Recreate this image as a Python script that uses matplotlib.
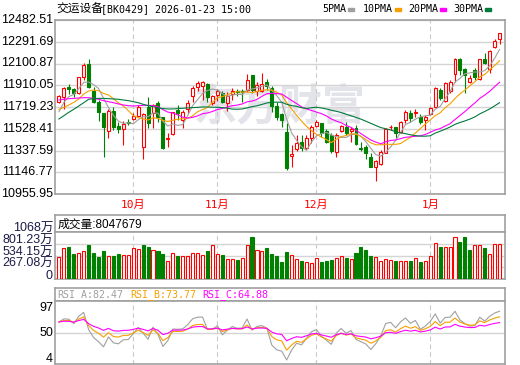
import numpy as np
import pandas as pd
import matplotlib
matplotlib.use("Agg")
import matplotlib.pyplot as plt
from matplotlib import transforms
from matplotlib.patches import Rectangle

# daily bars of 交运设备 [BK0429]
opens = [11766, 11810, 11898, 11877, 11845, 11980, 12094, 11863, 11766, 11670,
         11509, 11687, 11553, 11523, 11591, 11611, 11640, 11366, 11716, 11664,
         11757, 11629, 11439, 11480, 11693, 11605, 11699, 11816, 11892, 11907,
         11921, 11757, 11825, 11845, 11752, 11833, 11863, 11860, 11869, 12000,
         11860, 11863, 11942, 11883, 11728, 11655, 11503, 11290, 11348, 11415,
         11363, 11445, 11556, 11576, 11512, 11474, 11328, 11512, 11547, 11506,
         11532, 11363, 11371, 11284, 11196, 11219, 11319, 11541, 11541, 11503,
         11605, 11664, 11664, 11629, 11605, 11658, 11722, 11869, 11775, 11863,
         12006, 12138, 12050, 11936, 12044, 11962, 12140, 12050, 12243, 12316]
highs = [11825, 11898, 11921, 11883, 11985, 12102, 12140, 11898, 11781, 11670,
         11699, 11722, 11591, 11599, 11611, 11664, 11737, 11670, 11804, 11746,
         11772, 11635, 11488, 11672, 11737, 11693, 11781, 11904, 11950, 11947,
         11927, 11825, 11874, 11863, 11854, 11883, 11877, 11874, 12006, 12000,
         11942, 12015, 11962, 11904, 11766, 11664, 11576, 11386, 11474, 11474,
         11474, 11561, 11605, 11582, 11523, 11488, 11488, 11561, 11591, 11547,
         11561, 11415, 11386, 11313, 11255, 11342, 11532, 11561, 11547, 11597,
         11693, 11693, 11699, 11658, 11649, 11716, 11898, 11883, 11942, 11956,
         12146, 12152, 12059, 12000, 12059, 12143, 12190, 12219, 12313, 12371]
lows = [11752, 11699, 11833, 11810, 11833, 11956, 11883, 11752, 11599, 11284,
        11445, 11518, 11488, 11386, 11561, 11605, 11629, 11260, 11532, 11532,
        11591, 11351, 11371, 11474, 11605, 11532, 11664, 11766, 11860, 11781,
        11766, 11737, 11775, 11752, 11687, 11781, 11816, 11766, 11854, 11845,
        11816, 11854, 11869, 11678, 11605, 11547, 11167, 11190, 11336, 11336,
        11342, 11406, 11547, 11453, 11406, 11313, 11284, 11503, 11474, 11415,
        11386, 11336, 11260, 11190, 11070, 11211, 11313, 11518, 11444, 11488,
        11576, 11591, 11629, 11570, 11518, 11649, 11716, 11781, 11766, 11845,
        11942, 12000, 11845, 11927, 11956, 11956, 12094, 12021, 12234, 12272]
closes = [11816, 11883, 11880, 11845, 11980, 12088, 11898, 11766, 11678, 11547,
          11687, 11547, 11523, 11573, 11576, 11640, 11722, 11658, 11576, 11737,
          11635, 11363, 11450, 11672, 11668, 11676, 11752, 11889, 11933, 11936,
          11810, 11813, 11860, 11766, 11816, 11863, 11848, 11851, 11956, 11869,
          11912, 11921, 11904, 11728, 11635, 11605, 11187, 11307, 11401, 11357,
          11445, 11547, 11585, 11488, 11415, 11333, 11474, 11553, 11488, 11523,
          11395, 11354, 11313, 11196, 11249, 11328, 11523, 11547, 11488, 11591,
          11678, 11626, 11678, 11591, 11635, 11708, 11889, 11795, 11933, 11940,
          12138, 12044, 12000, 11971, 11980, 12138, 12102, 12211, 12301, 12366]
# volume in 万
volumes = [507, 704, 735, 576, 598, 636, 780, 598, 507, 644,
           530, 530, 576, 553, 553, 704, 689, 780, 727, 659,
           629, 576, 417, 591, 530, 530, 530, 598, 598, 553,
           644, 780, 576, 553, 462, 462, 439, 485, 780, 962,
           667, 644, 712, 576, 530, 394, 621, 553, 462, 417,
           394, 371, 485, 394, 417, 439, 485, 530, 485, 462,
           598, 735, 667, 530, 507, 417, 462, 439, 417, 417,
           417, 417, 485, 394, 417, 530, 826, 735, 735, 735,
           962, 848, 962, 667, 780, 780, 712, 576, 803, 805]

# moving-average values on the first days (their earlier closes are off the chart)
ma5_head = [11678, 11760, 11810, 11830]
ma10_head = [11699, 11716, 11737, 11760, 11789, 11833, 11860, 11868, 11862]
ma20_head = [11781, 11787, 11792, 11795, 11798, 11801, 11801, 11795, 11787, 11775,
             11766, 11757, 11746, 11737, 11731, 11728, 11731, 11734, 11734]
ma30_head = [11614, 11643, 11673, 11699, 11728, 11757, 11787, 11792, 11795, 11795,
             11792, 11790, 11787, 11781, 11775, 11766, 11757, 11743, 11731, 11722,
             11711, 11705, 11702, 11702, 11705, 11708, 11711, 11714, 11716]
rsi_start = [66, 66, 66]

month_labels = ['10月', '11月', '12月', '1月']
month_starts = [15, 32, 52, 75]

price_lo, price_hi = 10955.95, 12482.51
vol_top = 1068.305
rsi_lo, rsi_hi = 4, 97

ma_windows = [5, 10, 20, 30]
ma_heads = [ma5_head, ma10_head, ma20_head, ma30_head]
ma_names = ['5PMA', '10PMA', '20PMA', '30PMA']
ma_colors = ['#a0a0a0', '#f5a000', '#ff00ff', '#007a3d']
rsi_windows = [6, 12, 24]
rsi_texts = ['RSI_A:82.47', 'RSI_B:73.77', 'RSI_C:64.88']

RED = '#ff0000'
GREEN = '#008000'
FRAME = '#a0a0a0'
GRID = '#d4d4d4'
CJK = ['Liberation Sans', 'Noto Sans CJK SC']
MONO = ['DejaVu Sans Mono', 'Noto Sans CJK SC']

W, H = 520, 365


def fx(px):
    return px / W


def fy(py):
    return 1 - py / H


def box(x0, y0, x1, y1):
    return [fx(x0), fy(y1), (x1 - x0) / W, (y1 - y0) / H]


def style_panel(ax, n, grid_lines=True):
    for s in ax.spines.values():
        s.set_color(FRAME)
        s.set_linewidth(1.2)
    ax.set_xticks([])
    ax.set_yticks([])
    ax.set_xlim(-0.8, n + 0.1)
    if grid_lines:
        for m in month_starts:
            ax.axvline(m, color='#c8c8c8', lw=0.8, ls=(0, (4, 3)), zorder=1)


def ylabel(ax, value, text, dy=0, **kw):
    tr = transforms.blended_transform_factory(ax.transAxes, ax.transData)
    tr = transforms.offset_copy(tr, fig=ax.figure, x=-2, y=dy, units='dots')
    ax.text(0, value, text, transform=tr, ha='right', va='center',
            fontsize=9, **kw)


def moving_average(c, w, head):
    ma = pd.Series(c).rolling(w).mean().to_numpy()
    ma[:len(head)] = head
    return ma


def rsi(c, w, start):
    # SMA(x, N, 1) smoothing, seeded with the value shown on the first day
    d = np.diff(c)
    total = np.abs(d).mean()
    gain = total * start / 100
    out = [start]
    for di in d:
        gain = (max(di, 0) + (w - 1) * gain) / w
        total = (abs(di) + (w - 1) * total) / w
        out.append(gain / total * 100)
    return np.array(out)


o = np.array(opens, float)
h = np.array(highs, float)
l = np.array(lows, float)
c = np.array(closes, float)
v = np.array(volumes, float)
n = len(c)
x = np.arange(n)
up = c >= o

fig = plt.figure(figsize=(5.2, 3.65), dpi=100)

# ---- price panel ----
ax = fig.add_axes(box(55, 20, 505, 194))
style_panel(ax, n)
ax.set_ylim(price_lo, price_hi)
for t in np.linspace(price_lo, price_hi, 9):
    ax.axhline(t, color=GRID, lw=1, zorder=1)
    ylabel(ax, t, f'{t:.2f}', family='Liberation Sans')
ax.text(0.5, 0.5, '东方财富', transform=ax.transAxes, ha='center', va='center',
        fontsize=31, fontweight='bold', color='#e3e3ea',
        family='Noto Sans CJK SC', zorder=0.5)

col = np.where(up, RED, GREEN)
ax.vlines(x, l, h, colors=col, lw=0.8, zorder=2)
body_h = np.maximum(np.abs(c - o), 3)
ax.bar(x, body_h, bottom=np.minimum(o, c), width=0.6,
       color=np.where(up, 'white', GREEN), edgecolor=col, lw=0.8, zorder=3)

for w, head, colr in zip(ma_windows, ma_heads, ma_colors):
    ax.plot(x, moving_average(c, w, head), color=colr, lw=0.8, zorder=4)

for m, lab in zip(month_starts, month_labels):
    ax.text(m, -0.063, lab, transform=ax.get_xaxis_transform(), ha='center',
            va='center', color=RED, fontsize=8, family=MONO)

# title and MA legend
fig.text(fx(56), fy(9), '交运设备', fontsize=8.5, family='Noto Sans CJK SC',
         va='center')
fig.text(fx(101), fy(9), '[BK0429] 2026-01-23 15:00', fontsize=7.2,
         family='DejaVu Sans Mono', va='center')
legend_x = [322, 363, 408, 453]
for lx, name, colr in zip(legend_x, ma_names, ma_colors):
    fig.text(fx(lx), fy(9), name, fontsize=7.2, family='DejaVu Sans Mono',
             va='center')
    mx = lx + 6.05 * len(name) + 2
    fig.patches.append(Rectangle((fx(mx), fy(10.5)), 6 / W, 3 / H,
                                 transform=fig.transFigure, color=colr))

# ---- volume panel ----
axh = fig.add_axes(box(55, 215, 505, 232))
style_panel(axh, n, grid_lines=False)
axh.text(0.005, 0.45, '成交量:8047679', transform=axh.transAxes, va='center',
         fontsize=8.5, family=CJK)

axv = fig.add_axes(box(55, 232, 505, 279))
style_panel(axv, n)
axv.set_ylim(0, vol_top)
vol_up = np.r_[True, c[1:] >= c[:-1]]
vcol = np.where(vol_up, RED, GREEN)
axv.bar(x, v, width=0.62, color=np.where(vol_up, 'white', GREEN),
        edgecolor=vcol, lw=0.8, zorder=3)
for t in np.linspace(0, vol_top, 5):
    if 0 < t < vol_top:
        axv.axhline(t, color=GRID, lw=1, zorder=1)
    if t == 0:
        lab = '0'
    elif t >= 1000:
        lab = f'{t:.0f}万'
    else:
        lab = f'{t:.2f}万'
    ylabel(axv, t, lab, dy=3, family=CJK, color='#1c1c48')

# ---- RSI panel ----
axrh = fig.add_axes(box(55, 288, 505, 301))
style_panel(axrh, n, grid_lines=False)
for px, txt, colr in zip([57, 130, 202], rsi_texts, ma_colors[:3]):
    fig.text(fx(px), fy(294.5), txt, color=colr, fontsize=7.2,
             family='DejaVu Sans Mono', va='center')

axr = fig.add_axes(box(55, 301, 505, 364))
style_panel(axr, n)
axr.set_ylim(rsi_lo, rsi_hi)
axr.axhline(50, color=GRID, lw=1, zorder=1)
for w, s, colr in zip(rsi_windows, rsi_start, ma_colors[:3]):
    axr.plot(x, rsi(c, w, s), color=colr, lw=0.8, zorder=3)
ylabel(axr, rsi_hi, '97', dy=-7, family='Liberation Sans')
ylabel(axr, 50, '50', family='Liberation Sans')
ylabel(axr, rsi_lo, '4', dy=5, family='Liberation Sans')

fig.savefig('out.png', dpi=100)
